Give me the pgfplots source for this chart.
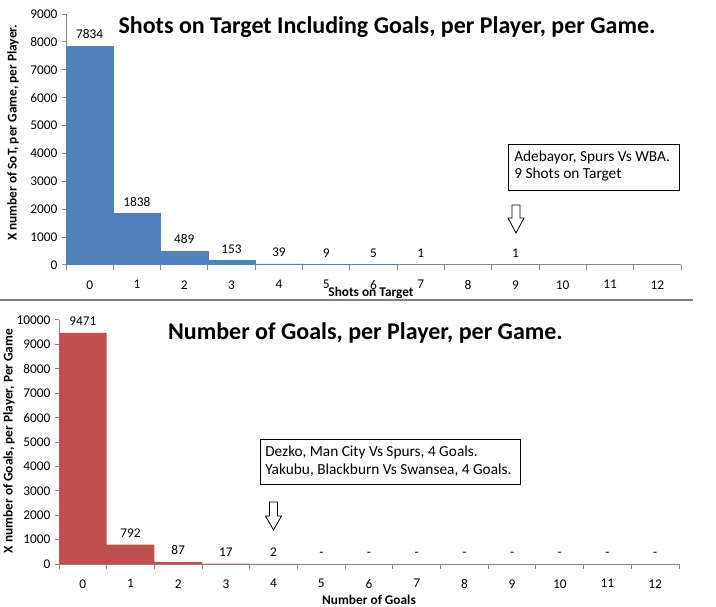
\documentclass[border=0pt]{standalone}
\usepackage{pgfplots}
\pgfplotsset{compat=1.18}
\usepackage{fontspec}
\setmainfont{Carlito}
\definecolor{barblue}{HTML}{4F81BD}
\definecolor{barred}{HTML}{C0504D}
\definecolor{axgray}{HTML}{868686}
\pgfplotsset{
  excelbar/.style={
    scale only axis,
    axis lines=left,
    axis line style={-, draw=axgray, line width=0.75pt},
    xmin=-0.5, xmax=12.5, ymin=0,
    enlargelimits=false,
    xtick={0,...,12},
    minor xtick={-0.5,0.5,...,12.5},
    major x tick style={draw=none},
    minor tick length=4pt,
    major tick length=3pt,
    tick align=outside,
    tick style={draw=axgray, line width=0.75pt},
    xtick pos=bottom, ytick pos=left,
    ticklabel style={font=\fontsize{10}{11}\selectfont, text=black},
    xticklabel style={yshift=-5pt},
    /pgf/number format/assume math mode=true,
    /pgf/number format/1000 sep={},
    scaled y ticks=false,
    ybar, bar width=1,
    point meta=explicit symbolic,
    nodes near coords,
    nodes near coords style={font=\fontsize{10}{11}\selectfont, text=black, yshift=2pt},
  }
}
\begin{document}
\begin{tikzpicture}[x=0.75pt,y=0.75pt]
\path[use as bounding box] (0,0) rectangle (716,606);

% ---------- top chart ----------
\begin{axis}[excelbar, at={(49.5pt,255.75pt)}, anchor=south west,
  width=461.25pt, height=188.25pt,
  ymax=9000, ytick={0,1000,...,9000}]
\addplot[fill=barblue, draw=barblue, line width=0.6pt] table[meta=label] {
x y label
0 7834 7834
1 1838 1838
2 489 489
3 153 153
4 39 39
5 9 9
6 5 5
7 1 1
9 1 1
};
\end{axis}

\node[font=\fontsize{18}{21}\selectfont\bfseries] at (387,579) {Shots on Target Including Goals, per Player, per Game.};
\node[rotate=90, font=\fontsize{10}{12}\selectfont\bfseries] at (13,473) {X number of SoT, per Game, per Player.};
\node[font=\fontsize{10}{12}\selectfont\bfseries] at (371,313) {Shots on Target};

\draw[black, line width=0.75pt, fill=white] (508,461) rectangle (679,415);
\node[anchor=west, inner sep=0pt, font=\fontsize{11.5}{13}\selectfont] at (514,449) {Adebayor, Spurs Vs WBA.};
\node[anchor=west, inner sep=0pt, font=\fontsize{11.5}{13}\selectfont] at (514,431) {9 Shots on Target};
\draw[black, line width=0.6pt, fill=white] (512,401)--(520,401)--(520,388)--(524,388)--(516,373)--(508,388)--(512,388)--cycle;

% separator
\draw[gray, line width=1.1pt] (0,306)--(693,306);

% ---------- bottom chart ----------
\begin{axis}[excelbar, at={(44.25pt,31.5pt)}, anchor=south west,
  width=465pt, height=183pt,
  ymax=10000, ytick={0,1000,...,10000}]
\addplot[fill=barred, draw=none] table[meta=label] {
x y label
0 9471 9471
1 792 792
2 87 87
3 17 17
4 2 2
5 0 -
6 0 -
7 0 -
8 0 -
9 0 -
10 0 -
11 0 -
12 0 -
};
\end{axis}

\node[font=\fontsize{18}{21}\selectfont\bfseries] at (365.5,273) {Number of Goals, per Player, per Game.};
\node[rotate=90, font=\fontsize{10}{12}\selectfont\bfseries] at (9,165) {X number of Goals, per Player, Per Game};
\node[font=\fontsize{10}{12}\selectfont\bfseries] at (369,6) {Number of Goals};

\draw[black, line width=0.75pt, fill=white] (260,166) rectangle (520,121);
\node[anchor=west, inner sep=0pt, font=\fontsize{11.5}{13}\selectfont] at (265,154) {Dezko, Man City Vs Spurs, 4 Goals.};
\node[anchor=west, inner sep=0pt, font=\fontsize{11.5}{13}\selectfont] at (265,136) {Yakubu, Blackburn Vs Swansea, 4 Goals.};
\draw[black, line width=0.6pt, fill=white] (269.5,104)--(277.5,104)--(277.5,90)--(281.5,90)--(273.5,76)--(265.5,90)--(269.5,90)--cycle;
\end{tikzpicture}
\end{document}
